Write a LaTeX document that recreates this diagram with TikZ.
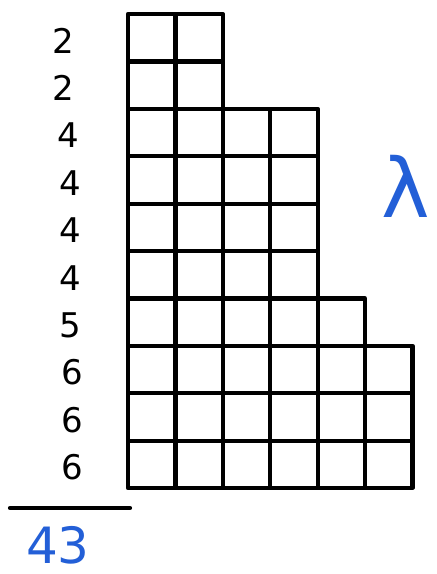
\documentclass[tikz,border=0pt]{standalone}
\usepackage{fontspec}
\setmainfont{DejaVu Sans}
\definecolor{penblue}{RGB}{35,95,215}
\begin{document}
\begin{tikzpicture}[x=1pt,y=-1pt,
  gridline/.style={line width=4.2pt,line cap=round,line join=round},
  rowlab/.style={font=\fontsize{34}{34}\selectfont,anchor=center},
  bluetext/.style={text=penblue}]
\useasboundingbox (0,0) rectangle (437,574);
\fill[white] (0,0) rectangle (437,574);
\def\cx{128}\def\cw{47.4}\def\ry{14}\def\rh{47.4}
\foreach \len [count=\i from 0] in {2,2,4,4,4,4,5,6,6,6}{
  \foreach \j in {1,...,\len}{
    \draw[gridline] ({\cx+(\j-1)*\cw},{\ry+\i*\rh}) rectangle ({\cx+\j*\cw},{\ry+(\i+1)*\rh});
  }
}
\foreach \v/\x [count=\i from 0] in {2/63,2/63,4/68,4/70,4/70,4/70,5/70,6/72,6/72,6/72}{
  \node[rowlab] (n\i) at (\x,{\ry+(\i+0.5)*\rh+3}) {\v};
}
\coordinate (l1) at (10,508);
\coordinate (l2) at (130,508);
\draw[line width=4.2pt,line cap=round] (l1) -- (l2);
\node[bluetext,font=\fontsize{50}{50}\selectfont] (total) at (58,545) {43};
\node[bluetext,font=\fontsize{82}{82}\selectfont] (lam) at (406,186) {λ};
\end{tikzpicture}
\end{document}
